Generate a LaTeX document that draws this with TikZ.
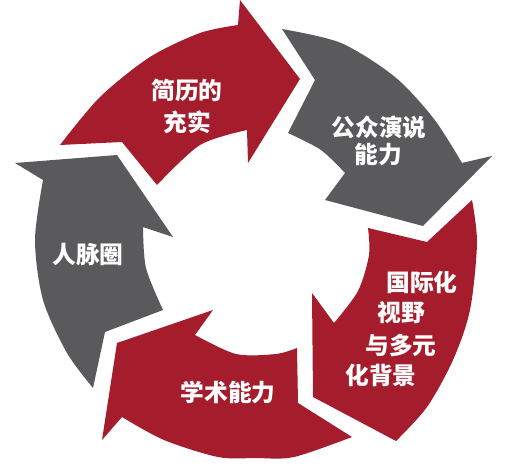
\documentclass[tikz,border=0pt]{standalone}
\usepackage{fontspec}
\newfontfamily\cjk{Noto Sans CJK SC}
\definecolor{cyclered}{HTML}{A51D2D}
\definecolor{cyclegray}{HTML}{5A5A5C}
\begin{document}
\begin{tikzpicture}[x=0.02cm, y=-0.02cm,
    tag/.style={text=white, inner sep=0pt, font=\cjk\bfseries\fontsize{13.5}{16}\selectfont}]
            \useasboundingbox (0,0) rectangle (514,466);
            \fill[cyclered] (122,142) -- plot[smooth] coordinates {(60,145) (100,97) (150,57) (200,33) (238,25)}
                -- (240,0) -- (300,79) -- (248,163) -- plot[smooth] coordinates {(247,130) (200,145) (157,185)} -- cycle;
            \fill[cyclegray] (315,80) -- plot[smooth] coordinates {(282,29) (341,43) (395,77) (434,119) (462,163)}
                -- (492,156) -- (423,226) -- (325,200) -- plot[smooth] coordinates {(345,173) (321,150) (288,133)} -- cycle;
            \fill[cyclered] (427,242) -- plot[smooth] coordinates {(472,200) (477,243) (470,310) (453,360) (427,407) (396,441)}
                -- (313,397) -- (312,293) -- plot[smooth] coordinates {(334,323) (358,291) (369,255) (368,228)} -- cycle;
            \fill[cyclered] (298,403) -- plot[smooth] coordinates {(352,437) (294,457) (256,458) (218,457) (164,440) (122,417)}
                -- (102,440) -- (117,343) -- (213,310) -- plot[smooth] coordinates {(195,335) (236,354) (276,354) (297,348)} -- cycle;
            \fill[cyclegray] (105,332) -- plot[smooth] coordinates {(93,388) (67,353) (43,300) (35,240) (43,180)}
                -- (15,163) -- (117,155) -- (173,237) -- plot[smooth] coordinates {(143,227) (146,268) (163,310)} -- cycle;
            \foreach \name/\x/\y/\txt in {jianli1/187/90/简历的, jianli2/187/122/充实,
                yanshuo1/379/127/公众演说, yanshuo2/378/155/能力, renmai/88/255/人脉圈,
                xueshu/228/392/学术能力, guoji1/422/282/国际化, guoji2/401/313/视野,
                guoji3/401/345/与多元, guoji4/381/375/化背景}
            \node[tag] (\name) at (\x,\y) {\txt};
        \end{tikzpicture}
\end{document}
